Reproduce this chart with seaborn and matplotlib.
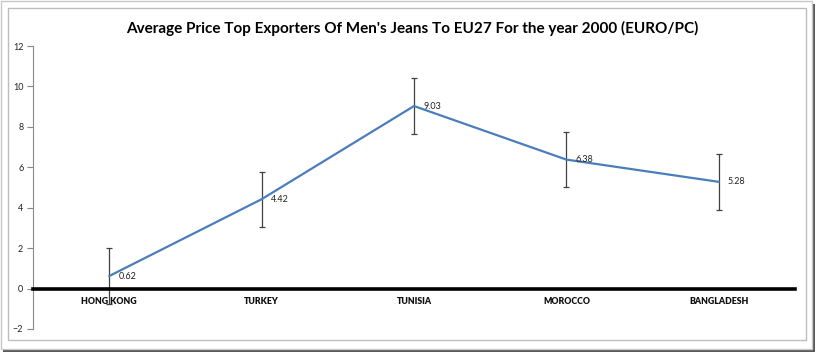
import numpy as np
import pandas as pd
import matplotlib.pyplot as plt
import seaborn as sns
from matplotlib.patches import Rectangle

countries = ['HONG KONG', 'TURKEY', 'TUNISIA', 'MOROCCO', 'BANGLADESH']
prices = [0.62, 4.42, 9.03, 6.38, 5.28]
errors = [1.37, 1.37, 1.37, 1.37, 1.37]
yticks = [-2, 0, 2, 4, 6, 8, 10, 12]

df = pd.DataFrame({'country': countries, 'price': prices})
df['pos'] = np.arange(len(df))

sns.set_style('white')
plt.rcParams['font.family'] = ['Lato', 'DejaVu Sans']

fig = plt.figure(figsize=(8.2, 3.53), dpi=100)
W, H = 820, 353
# frame and shadow
fig.patches.append(Rectangle((3 / W, 1 - 352 / H), 812 / W, 348 / H, transform=fig.transFigure,
                             facecolor='#5a5a5a', edgecolor='none', zorder=-3))
fig.patches.append(Rectangle((1 / W, 1 - 349 / H), 811 / W, 348 / H, transform=fig.transFigure,
                             facecolor='white', edgecolor='#c8c8c8', lw=1, zorder=-2))
fig.patches.append(Rectangle((8 / W, 1 - 340 / H), 798 / W, 332 / H, transform=fig.transFigure,
                             facecolor='white', edgecolor='#bdbdbd', lw=1, zorder=-1))

ax = fig.add_axes([33 / W, 24 / H, 762 / W, 283 / H])
ax.set_facecolor('none')

sns.lineplot(data=df, x='pos', y='price', color='#4a7ebb', lw=1.6, ax=ax, zorder=3)
ax.errorbar(df['pos'], df['price'], yerr=errors, fmt='none', ecolor='#404040',
            elinewidth=0.9, capsize=2.5, capthick=0.9, zorder=2)

for x, y in zip(df['pos'], df['price']):
    ax.text(x + 0.06, y, f'{y:.2f}', fontsize=6.5, va='center', ha='left', color='#222222',
            zorder=4)

ax.set_xlim(-0.5, 4.5)
ax.set_ylim(-2, 12)
ax.set_yticks(yticks)
ax.tick_params(axis='y', labelsize=6.5, length=4, direction='out', color='#888888',
               left=True, pad=3, labelcolor='#222222')
ax.tick_params(axis='x', length=0, pad=6)
ax.set_xlabel('')
ax.set_ylabel('')

for s in ['top', 'right']:
    ax.spines[s].set_visible(False)
ax.spines['left'].set_color('#888888')
ax.spines['left'].set_linewidth(0.8)
ax.spines['bottom'].set_position(('data', 0))
ax.spines['bottom'].set_color('black')
ax.spines['bottom'].set_linewidth(2.6)

ax.set_xticks(df['pos'], labels=countries, fontsize=6.3, fontweight='heavy', color='#111111')

fig.text(412 / W, 1 - 28 / H, "Average Price Top Exporters Of Men's Jeans To EU27 For the year 2000 (EURO/PC)",
         ha='center', va='center', fontsize=11, fontweight='bold', color='black')

fig.savefig('out.png', dpi=100)
